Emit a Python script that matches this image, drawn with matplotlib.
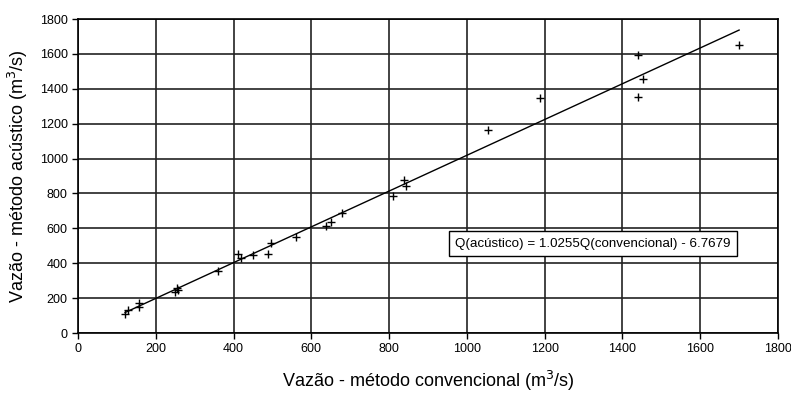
import matplotlib
matplotlib.use('Agg')
import matplotlib.pyplot as plt
import numpy as np

# Vazão convencional x acústico
q_conv = [121, 129, 157, 157, 250, 254, 256, 361, 411, 419, 451, 488, 496, 561,
          637, 650, 678, 809, 838, 843, 1053, 1188, 1441, 1452, 1441, 1700]
q_acus = [110, 132, 172, 148, 237, 258, 248, 357, 452, 432, 447, 453, 518, 549,
          615, 638, 690, 787, 877, 840, 1164, 1347, 1594, 1456, 1353, 1651]

slope = 1.0255
intercept = -6.7679
ticks = [0, 200, 400, 600, 800, 1000, 1200, 1400, 1600, 1800]

plt.rcParams['font.family'] = ['Liberation Sans', 'DejaVu Sans']

fig = plt.figure(figsize=(7.91, 3.98), dpi=100)
ax = fig.add_axes([78 / 791, 1 - 333 / 398, 700 / 791, 314 / 398])

ax.plot(q_conv, q_acus, linestyle='none', marker='+', color='black',
        markersize=6, markeredgewidth=1.0, zorder=3)

xl = np.array([min(q_conv), max(q_conv)])
ax.plot(xl, slope * xl + intercept, color='black', linewidth=1.0, zorder=3)

ax.set_xlim(0, 1800)
ax.set_ylim(0, 1800)
ax.set_xticks(ticks)
ax.set_yticks(ticks)
ax.grid(True, color='#222222', linewidth=1.2)
ax.set_axisbelow(True)
for s in ax.spines.values():
    s.set_linewidth(1.2)
ax.tick_params(labelsize=9, length=4, width=1)

ax.set_xlabel('Vazão - método convencional (m$^3$/s)', fontsize=13, labelpad=10)
ax.set_ylabel('Vazão - método acústico (m$^3$/s)', fontsize=13, labelpad=7)

ax.text(970, 512, 'Q(acústico) = 1.0255Q(convencional) - 6.7679', fontsize=9.6,
        va='center', ha='left', zorder=4,
        bbox=dict(boxstyle='square,pad=0.5', facecolor='white',
                  edgecolor='black', linewidth=1))

fig.savefig('out.png', dpi=100)
